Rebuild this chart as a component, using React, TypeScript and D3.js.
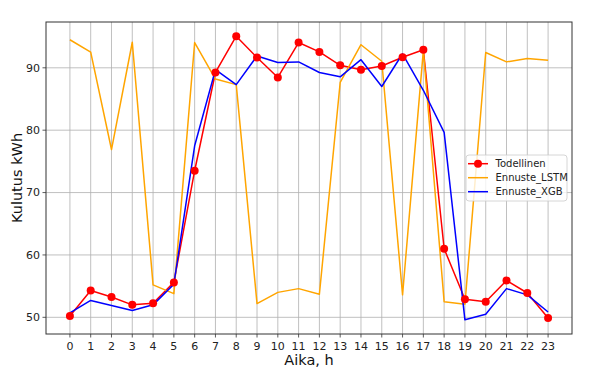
import React from 'react';
import * as d3 from 'd3';

const hours = d3.range(0, 24);
const todellinen = [50.2, 54.3, 53.25, 52.0, 52.25, 55.6, 73.5, 89.25, 95.07, 91.65, 88.45, 94.05, 92.55, 90.4, 89.7, 90.3, 91.7, 92.9, 61.0, 52.9, 52.5, 55.9, 53.9, 49.9];
const ennusteLSTM = [94.5, 92.5, 76.9, 94.1, 55.2, 53.8, 94.05, 88.2, 87.3, 52.2, 54.0, 54.6, 53.7, 87.65, 93.7, 91.05, 53.6, 92.8, 52.5, 52.1, 92.45, 90.95, 91.5, 91.2];
const ennusteXGB = [50.7, 52.7, 51.9, 51.1, 52.0, 55.3, 77.5, 89.7, 87.3, 91.9, 90.85, 90.95, 89.25, 88.55, 91.3, 87.0, 92.25, 86.4, 79.65, 49.6, 50.5, 54.6, 53.6, 50.85];
const yTicks = [50, 60, 70, 80, 90];

const series = [
  { name: 'Todellinen', values: todellinen, color: 'red', marker: true },
  { name: 'Ennuste_LSTM', values: ennusteLSTM, color: 'orange', marker: false },
  { name: 'Ennuste_XGB', values: ennusteXGB, color: 'blue', marker: false },
];

const W = 602;
const H = 374;
const margin = { left: 46, right: 30, top: 22, bottom: 40 };

export default function App() {
  const x0 = margin.left;
  const x1 = W - margin.right;
  const y0 = margin.top;
  const y1 = H - margin.bottom;

  const all = [...todellinen, ...ennusteLSTM, ...ennusteXGB];
  const ymin = d3.min(all)!;
  const ymax = d3.max(all)!;
  const ypad = (ymax - ymin) * 0.05;

  const x = d3.scaleLinear().domain([-1.15, 24.15]).range([x0, x1]);
  const y = d3.scaleLinear().domain([ymin - ypad, ymax + ypad]).range([y1, y0]);

  const line = d3.line<number>().x((_, i) => x(hours[i])).y((d) => y(d));

  const font = 'DejaVu Sans, sans-serif';
  const lx = 466;
  const ly = 155;

  return (
    <svg width={W} height={H} style={{ position: 'absolute', left: 0, top: 0 }} fontFamily={font}>
      <rect width={W} height={H} fill="white" />
      {/* grid */}
      {hours.map((h) => (
        <line key={'gx' + h} x1={x(h)} x2={x(h)} y1={y0} y2={y1} stroke="#b0b0b0" strokeWidth={0.8} />
      ))}
      {yTicks.map((t) => (
        <line key={'gy' + t} x1={x0} x2={x1} y1={y(t)} y2={y(t)} stroke="#b0b0b0" strokeWidth={0.8} />
      ))}
      {/* lines */}
      {series.map((s) => (
        <path key={s.name} d={line(s.values)!} fill="none" stroke={s.color} strokeWidth={1.5} strokeLinejoin="round" />
      ))}
      {todellinen.map((v, i) => (
        <circle key={'m' + i} cx={x(hours[i])} cy={y(v)} r={4} fill="red" />
      ))}
      {/* frame */}
      <rect x={x0} y={y0} width={x1 - x0} height={y1 - y0} fill="none" stroke="#333" strokeWidth={1} />
      {/* ticks */}
      {hours.map((h) => (
        <g key={'tx' + h}>
          <line x1={x(h)} x2={x(h)} y1={y1} y2={y1 + 3.5} stroke="#333" strokeWidth={0.8} />
          <text x={x(h)} y={y1 + 16} textAnchor="middle" fontSize={11} fill="#222">{h}</text>
        </g>
      ))}
      {yTicks.map((t) => (
        <g key={'ty' + t}>
          <line x1={x0 - 3.5} x2={x0} y1={y(t)} y2={y(t)} stroke="#333" strokeWidth={0.8} />
          <text x={x0 - 6} y={y(t)} dy="0.35em" textAnchor="end" fontSize={11} fill="#222">{t}</text>
        </g>
      ))}
      <text x={(x0 + x1) / 2} y={H - 9} textAnchor="middle" fontSize={14.5} fill="#111">Aika, h</text>
      <text transform={`translate(21.5, ${(y0 + y1) / 2}) rotate(-90)`} textAnchor="middle" fontSize={14.5} fill="#111">Kulutus kWh</text>
      {/* legend */}
      <rect x={lx} y={ly} width={101} height={46} rx={3} fill="white" fillOpacity={0.8} stroke="#cccccc" strokeWidth={0.8} />
      {series.map((s, i) => (
        <g key={'lg' + s.name} transform={`translate(${lx + 2}, ${ly + 8.7 + i * 14})`}>
          <line x1={0} x2={20} y1={0} y2={0} stroke={s.color} strokeWidth={1.5} />
          {s.marker && <circle cx={10} cy={0} r={4} fill="red" />}
          <text x={27.5} y={0} dy="0.35em" fontSize={10} fill="#222">{s.name}</text>
        </g>
      ))}
    </svg>
  );
}
